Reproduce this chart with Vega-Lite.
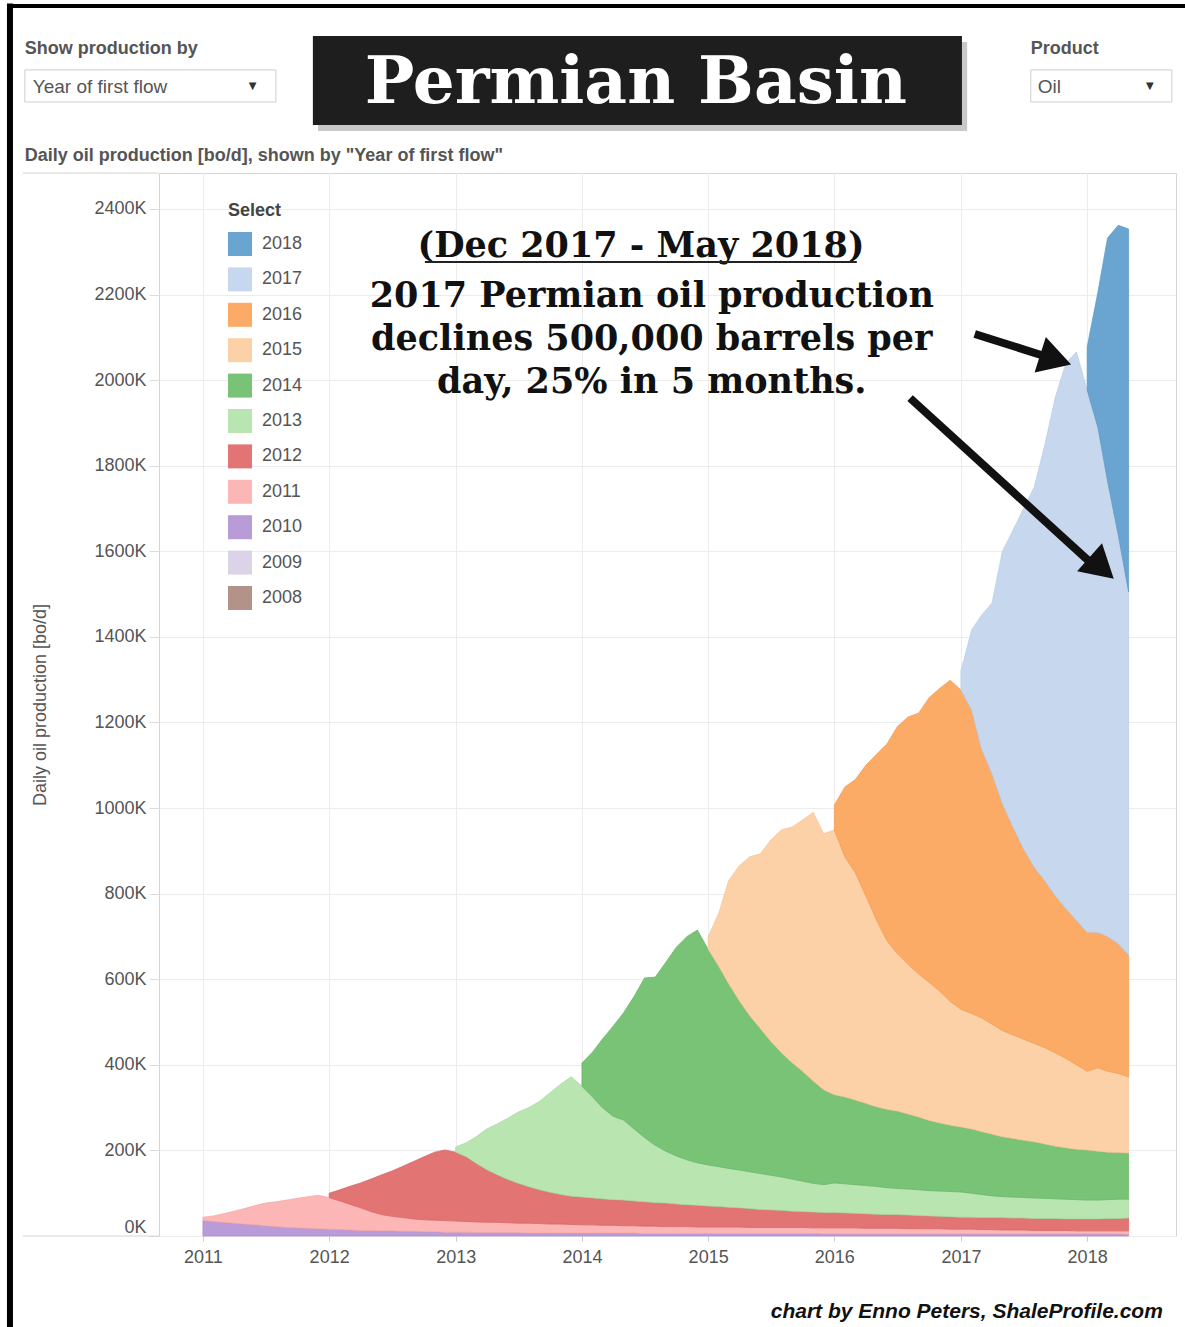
{
"$schema":"https://vega.github.io/schema/vega-lite/v6.json",
"autosize":{"type":"none"},
"padding":{"left":159,"top":173,"right":9,"bottom":91},
"width":1017,"height":1063,
"background":"white",
"config":{"font":"Liberation Sans","view":{"stroke":"#d4d4d4"},"axis":{"gridColor":"#ececec","domain":false}},
"datasets":{
"prod":[
{"date":"2011-01-01","vintage":"2010","kbopd":36},{"date":"2011-02-01","vintage":"2010","kbopd":34},{"date":"2011-03-01","vintage":"2010","kbopd":32},{"date":"2011-04-01","vintage":"2010","kbopd":30},{"date":"2011-05-01","vintage":"2010","kbopd":28},{"date":"2011-06-01","vintage":"2010","kbopd":26},{"date":"2011-07-01","vintage":"2010","kbopd":24},{"date":"2011-08-01","vintage":"2010","kbopd":22},{"date":"2011-09-01","vintage":"2010","kbopd":20},{"date":"2011-10-01","vintage":"2010","kbopd":19},{"date":"2011-11-01","vintage":"2010","kbopd":18},{"date":"2011-12-01","vintage":"2010","kbopd":17},
{"date":"2012-01-01","vintage":"2010","kbopd":16},{"date":"2012-02-01","vintage":"2010","kbopd":15},{"date":"2012-03-01","vintage":"2010","kbopd":14},{"date":"2012-04-01","vintage":"2010","kbopd":13},{"date":"2012-05-01","vintage":"2010","kbopd":13},{"date":"2012-06-01","vintage":"2010","kbopd":12},{"date":"2012-07-01","vintage":"2010","kbopd":12},{"date":"2012-08-01","vintage":"2010","kbopd":11},{"date":"2012-09-01","vintage":"2010","kbopd":11},{"date":"2012-10-01","vintage":"2010","kbopd":10},{"date":"2012-11-01","vintage":"2010","kbopd":10},{"date":"2012-12-01","vintage":"2010","kbopd":9},
{"date":"2013-01-01","vintage":"2010","kbopd":9},{"date":"2013-02-01","vintage":"2010","kbopd":9},{"date":"2013-03-01","vintage":"2010","kbopd":8},{"date":"2013-04-01","vintage":"2010","kbopd":8},{"date":"2013-05-01","vintage":"2010","kbopd":8},{"date":"2013-06-01","vintage":"2010","kbopd":8},{"date":"2013-07-01","vintage":"2010","kbopd":8},{"date":"2013-08-01","vintage":"2010","kbopd":7},{"date":"2013-09-01","vintage":"2010","kbopd":7},{"date":"2013-10-01","vintage":"2010","kbopd":7},{"date":"2013-11-01","vintage":"2010","kbopd":7},{"date":"2013-12-01","vintage":"2010","kbopd":7},
{"date":"2014-01-01","vintage":"2010","kbopd":7},{"date":"2014-02-01","vintage":"2010","kbopd":7},{"date":"2014-03-01","vintage":"2010","kbopd":7},{"date":"2014-04-01","vintage":"2010","kbopd":7},{"date":"2014-05-01","vintage":"2010","kbopd":7},{"date":"2014-06-01","vintage":"2010","kbopd":7},{"date":"2014-07-01","vintage":"2010","kbopd":6},{"date":"2014-08-01","vintage":"2010","kbopd":6},{"date":"2014-09-01","vintage":"2010","kbopd":6},{"date":"2014-10-01","vintage":"2010","kbopd":6},{"date":"2014-11-01","vintage":"2010","kbopd":6},{"date":"2014-12-01","vintage":"2010","kbopd":6},
{"date":"2015-01-01","vintage":"2010","kbopd":6},{"date":"2015-02-01","vintage":"2010","kbopd":6},{"date":"2015-03-01","vintage":"2010","kbopd":6},{"date":"2015-04-01","vintage":"2010","kbopd":6},{"date":"2015-05-01","vintage":"2010","kbopd":6},{"date":"2015-06-01","vintage":"2010","kbopd":6},{"date":"2015-07-01","vintage":"2010","kbopd":6},{"date":"2015-08-01","vintage":"2010","kbopd":6},{"date":"2015-09-01","vintage":"2010","kbopd":6},{"date":"2015-10-01","vintage":"2010","kbopd":6},{"date":"2015-11-01","vintage":"2010","kbopd":6},{"date":"2015-12-01","vintage":"2010","kbopd":5},
{"date":"2016-01-01","vintage":"2010","kbopd":5},{"date":"2016-02-01","vintage":"2010","kbopd":5},{"date":"2016-03-01","vintage":"2010","kbopd":5},{"date":"2016-04-01","vintage":"2010","kbopd":5},{"date":"2016-05-01","vintage":"2010","kbopd":5},{"date":"2016-06-01","vintage":"2010","kbopd":5},{"date":"2016-07-01","vintage":"2010","kbopd":5},{"date":"2016-08-01","vintage":"2010","kbopd":5},{"date":"2016-09-01","vintage":"2010","kbopd":5},{"date":"2016-10-01","vintage":"2010","kbopd":5},{"date":"2016-11-01","vintage":"2010","kbopd":5},{"date":"2016-12-01","vintage":"2010","kbopd":5},
{"date":"2017-01-01","vintage":"2010","kbopd":5},{"date":"2017-02-01","vintage":"2010","kbopd":5},{"date":"2017-03-01","vintage":"2010","kbopd":5},{"date":"2017-04-01","vintage":"2010","kbopd":5},{"date":"2017-05-01","vintage":"2010","kbopd":5},{"date":"2017-06-01","vintage":"2010","kbopd":5},{"date":"2017-07-01","vintage":"2010","kbopd":5},{"date":"2017-08-01","vintage":"2010","kbopd":5},{"date":"2017-09-01","vintage":"2010","kbopd":5},{"date":"2017-10-01","vintage":"2010","kbopd":5},{"date":"2017-11-01","vintage":"2010","kbopd":5},{"date":"2017-12-01","vintage":"2010","kbopd":5},
{"date":"2018-01-01","vintage":"2010","kbopd":5},{"date":"2018-02-01","vintage":"2010","kbopd":5},{"date":"2018-03-01","vintage":"2010","kbopd":5},{"date":"2018-04-01","vintage":"2010","kbopd":5},{"date":"2018-05-01","vintage":"2010","kbopd":4},

{"date":"2011-01-01","vintage":"2011","kbopd":8},{"date":"2011-02-01","vintage":"2011","kbopd":13},{"date":"2011-03-01","vintage":"2011","kbopd":20},{"date":"2011-04-01","vintage":"2011","kbopd":28},{"date":"2011-05-01","vintage":"2011","kbopd":36},{"date":"2011-06-01","vintage":"2011","kbopd":45},{"date":"2011-07-01","vintage":"2011","kbopd":53},{"date":"2011-08-01","vintage":"2011","kbopd":58},{"date":"2011-09-01","vintage":"2011","kbopd":64},{"date":"2011-10-01","vintage":"2011","kbopd":69},{"date":"2011-11-01","vintage":"2011","kbopd":74},{"date":"2011-12-01","vintage":"2011","kbopd":78},
{"date":"2012-01-01","vintage":"2011","kbopd":74},{"date":"2012-02-01","vintage":"2011","kbopd":67},{"date":"2012-03-01","vintage":"2011","kbopd":60},{"date":"2012-04-01","vintage":"2011","kbopd":53},{"date":"2012-05-01","vintage":"2011","kbopd":44},{"date":"2012-06-01","vintage":"2011","kbopd":38},{"date":"2012-07-01","vintage":"2011","kbopd":34},{"date":"2012-08-01","vintage":"2011","kbopd":32},{"date":"2012-09-01","vintage":"2011","kbopd":29},{"date":"2012-10-01","vintage":"2011","kbopd":28},{"date":"2012-11-01","vintage":"2011","kbopd":27},{"date":"2012-12-01","vintage":"2011","kbopd":27},
{"date":"2013-01-01","vintage":"2011","kbopd":26},{"date":"2013-02-01","vintage":"2011","kbopd":25},{"date":"2013-03-01","vintage":"2011","kbopd":25},{"date":"2013-04-01","vintage":"2011","kbopd":24},{"date":"2013-05-01","vintage":"2011","kbopd":24},{"date":"2013-06-01","vintage":"2011","kbopd":23},{"date":"2013-07-01","vintage":"2011","kbopd":22},{"date":"2013-08-01","vintage":"2011","kbopd":23},{"date":"2013-09-01","vintage":"2011","kbopd":22},{"date":"2013-10-01","vintage":"2011","kbopd":21},{"date":"2013-11-01","vintage":"2011","kbopd":21},{"date":"2013-12-01","vintage":"2011","kbopd":20},
{"date":"2014-01-01","vintage":"2011","kbopd":19},{"date":"2014-02-01","vintage":"2011","kbopd":19},{"date":"2014-03-01","vintage":"2011","kbopd":18},{"date":"2014-04-01","vintage":"2011","kbopd":18},{"date":"2014-05-01","vintage":"2011","kbopd":17},{"date":"2014-06-01","vintage":"2011","kbopd":17},{"date":"2014-07-01","vintage":"2011","kbopd":17},{"date":"2014-08-01","vintage":"2011","kbopd":17},{"date":"2014-09-01","vintage":"2011","kbopd":16},{"date":"2014-10-01","vintage":"2011","kbopd":16},{"date":"2014-11-01","vintage":"2011","kbopd":16},{"date":"2014-12-01","vintage":"2011","kbopd":15},
{"date":"2015-01-01","vintage":"2011","kbopd":15},{"date":"2015-02-01","vintage":"2011","kbopd":15},{"date":"2015-03-01","vintage":"2011","kbopd":15},{"date":"2015-04-01","vintage":"2011","kbopd":15},{"date":"2015-05-01","vintage":"2011","kbopd":14},{"date":"2015-06-01","vintage":"2011","kbopd":14},{"date":"2015-07-01","vintage":"2011","kbopd":14},{"date":"2015-08-01","vintage":"2011","kbopd":14},{"date":"2015-09-01","vintage":"2011","kbopd":14},{"date":"2015-10-01","vintage":"2011","kbopd":14},{"date":"2015-11-01","vintage":"2011","kbopd":13},{"date":"2015-12-01","vintage":"2011","kbopd":14},
{"date":"2016-01-01","vintage":"2011","kbopd":14},{"date":"2016-02-01","vintage":"2011","kbopd":14},{"date":"2016-03-01","vintage":"2011","kbopd":14},{"date":"2016-04-01","vintage":"2011","kbopd":13},{"date":"2016-05-01","vintage":"2011","kbopd":13},{"date":"2016-06-01","vintage":"2011","kbopd":13},{"date":"2016-07-01","vintage":"2011","kbopd":13},{"date":"2016-08-01","vintage":"2011","kbopd":12},{"date":"2016-09-01","vintage":"2011","kbopd":12},{"date":"2016-10-01","vintage":"2011","kbopd":12},{"date":"2016-11-01","vintage":"2011","kbopd":12},{"date":"2016-12-01","vintage":"2011","kbopd":11},
{"date":"2017-01-01","vintage":"2011","kbopd":11},{"date":"2017-02-01","vintage":"2011","kbopd":11},{"date":"2017-03-01","vintage":"2011","kbopd":10},{"date":"2017-04-01","vintage":"2011","kbopd":10},{"date":"2017-05-01","vintage":"2011","kbopd":9},{"date":"2017-06-01","vintage":"2011","kbopd":9},{"date":"2017-07-01","vintage":"2011","kbopd":9},{"date":"2017-08-01","vintage":"2011","kbopd":8},{"date":"2017-09-01","vintage":"2011","kbopd":8},{"date":"2017-10-01","vintage":"2011","kbopd":8},{"date":"2017-11-01","vintage":"2011","kbopd":8},{"date":"2017-12-01","vintage":"2011","kbopd":7},
{"date":"2018-01-01","vintage":"2011","kbopd":7},{"date":"2018-02-01","vintage":"2011","kbopd":7},{"date":"2018-03-01","vintage":"2011","kbopd":7},{"date":"2018-04-01","vintage":"2011","kbopd":7},{"date":"2018-05-01","vintage":"2011","kbopd":8},

{"date":"2012-01-01","vintage":"2012","kbopd":10},{"date":"2012-02-01","vintage":"2012","kbopd":26},{"date":"2012-03-01","vintage":"2012","kbopd":42},{"date":"2012-04-01","vintage":"2012","kbopd":58},{"date":"2012-05-01","vintage":"2012","kbopd":76},{"date":"2012-06-01","vintage":"2012","kbopd":93},{"date":"2012-07-01","vintage":"2012","kbopd":106},{"date":"2012-08-01","vintage":"2012","kbopd":120},{"date":"2012-09-01","vintage":"2012","kbopd":134},{"date":"2012-10-01","vintage":"2012","kbopd":147},{"date":"2012-11-01","vintage":"2012","kbopd":159},{"date":"2012-12-01","vintage":"2012","kbopd":165},
{"date":"2013-01-01","vintage":"2012","kbopd":161},{"date":"2013-02-01","vintage":"2012","kbopd":151},{"date":"2013-03-01","vintage":"2012","kbopd":137},{"date":"2013-04-01","vintage":"2012","kbopd":123},{"date":"2013-05-01","vintage":"2012","kbopd":111},{"date":"2013-06-01","vintage":"2012","kbopd":101},{"date":"2013-07-01","vintage":"2012","kbopd":93},{"date":"2013-08-01","vintage":"2012","kbopd":85},{"date":"2013-09-01","vintage":"2012","kbopd":79},{"date":"2013-10-01","vintage":"2012","kbopd":74},{"date":"2013-11-01","vintage":"2012","kbopd":69},{"date":"2013-12-01","vintage":"2012","kbopd":66},
{"date":"2014-01-01","vintage":"2012","kbopd":65},{"date":"2014-02-01","vintage":"2012","kbopd":63},{"date":"2014-03-01","vintage":"2012","kbopd":62},{"date":"2014-04-01","vintage":"2012","kbopd":60},{"date":"2014-05-01","vintage":"2012","kbopd":60},{"date":"2014-06-01","vintage":"2012","kbopd":58},{"date":"2014-07-01","vintage":"2012","kbopd":57},{"date":"2014-08-01","vintage":"2012","kbopd":55},{"date":"2014-09-01","vintage":"2012","kbopd":55},{"date":"2014-10-01","vintage":"2012","kbopd":53},{"date":"2014-11-01","vintage":"2012","kbopd":51},{"date":"2014-12-01","vintage":"2012","kbopd":51},
{"date":"2015-01-01","vintage":"2012","kbopd":49},{"date":"2015-02-01","vintage":"2012","kbopd":48},{"date":"2015-03-01","vintage":"2012","kbopd":46},{"date":"2015-04-01","vintage":"2012","kbopd":45},{"date":"2015-05-01","vintage":"2012","kbopd":44},{"date":"2015-06-01","vintage":"2012","kbopd":42},{"date":"2015-07-01","vintage":"2012","kbopd":41},{"date":"2015-08-01","vintage":"2012","kbopd":40},{"date":"2015-09-01","vintage":"2012","kbopd":38},{"date":"2015-10-01","vintage":"2012","kbopd":37},{"date":"2015-11-01","vintage":"2012","kbopd":37},{"date":"2015-12-01","vintage":"2012","kbopd":36},
{"date":"2016-01-01","vintage":"2012","kbopd":36},{"date":"2016-02-01","vintage":"2012","kbopd":35},{"date":"2016-03-01","vintage":"2012","kbopd":34},{"date":"2016-04-01","vintage":"2012","kbopd":34},{"date":"2016-05-01","vintage":"2012","kbopd":33},{"date":"2016-06-01","vintage":"2012","kbopd":32},{"date":"2016-07-01","vintage":"2012","kbopd":32},{"date":"2016-08-01","vintage":"2012","kbopd":32},{"date":"2016-09-01","vintage":"2012","kbopd":31},{"date":"2016-10-01","vintage":"2012","kbopd":30},{"date":"2016-11-01","vintage":"2012","kbopd":29},{"date":"2016-12-01","vintage":"2012","kbopd":29},
{"date":"2017-01-01","vintage":"2012","kbopd":28},{"date":"2017-02-01","vintage":"2012","kbopd":28},{"date":"2017-03-01","vintage":"2012","kbopd":28},{"date":"2017-04-01","vintage":"2012","kbopd":28},{"date":"2017-05-01","vintage":"2012","kbopd":29},{"date":"2017-06-01","vintage":"2012","kbopd":28},{"date":"2017-07-01","vintage":"2012","kbopd":28},{"date":"2017-08-01","vintage":"2012","kbopd":28},{"date":"2017-09-01","vintage":"2012","kbopd":28},{"date":"2017-10-01","vintage":"2012","kbopd":28},{"date":"2017-11-01","vintage":"2012","kbopd":27},{"date":"2017-12-01","vintage":"2012","kbopd":28},
{"date":"2018-01-01","vintage":"2012","kbopd":28},{"date":"2018-02-01","vintage":"2012","kbopd":28},{"date":"2018-03-01","vintage":"2012","kbopd":29},{"date":"2018-04-01","vintage":"2012","kbopd":29},{"date":"2018-05-01","vintage":"2012","kbopd":30},

{"date":"2013-01-01","vintage":"2013","kbopd":12},{"date":"2013-02-01","vintage":"2013","kbopd":33},{"date":"2013-03-01","vintage":"2013","kbopd":62},{"date":"2013-04-01","vintage":"2013","kbopd":95},{"date":"2013-05-01","vintage":"2013","kbopd":119},{"date":"2013-06-01","vintage":"2013","kbopd":143},{"date":"2013-07-01","vintage":"2013","kbopd":167},{"date":"2013-08-01","vintage":"2013","kbopd":185},{"date":"2013-09-01","vintage":"2013","kbopd":207},{"date":"2013-10-01","vintage":"2013","kbopd":233},{"date":"2013-11-01","vintage":"2013","kbopd":258},{"date":"2013-12-01","vintage":"2013","kbopd":279},
{"date":"2014-01-01","vintage":"2013","kbopd":259},{"date":"2014-02-01","vintage":"2013","kbopd":236},{"date":"2014-03-01","vintage":"2013","kbopd":213},{"date":"2014-04-01","vintage":"2013","kbopd":195},{"date":"2014-05-01","vintage":"2013","kbopd":187},{"date":"2014-06-01","vintage":"2013","kbopd":168},{"date":"2014-07-01","vintage":"2013","kbopd":150},{"date":"2014-08-01","vintage":"2013","kbopd":134},{"date":"2014-09-01","vintage":"2013","kbopd":121},{"date":"2014-10-01","vintage":"2013","kbopd":112},{"date":"2014-11-01","vintage":"2013","kbopd":105},{"date":"2014-12-01","vintage":"2013","kbopd":99},
{"date":"2015-01-01","vintage":"2013","kbopd":96},{"date":"2015-02-01","vintage":"2013","kbopd":93},{"date":"2015-03-01","vintage":"2013","kbopd":91},{"date":"2015-04-01","vintage":"2013","kbopd":88},{"date":"2015-05-01","vintage":"2013","kbopd":86},{"date":"2015-06-01","vintage":"2013","kbopd":84},{"date":"2015-07-01","vintage":"2013","kbopd":81},{"date":"2015-08-01","vintage":"2013","kbopd":78},{"date":"2015-09-01","vintage":"2013","kbopd":75},{"date":"2015-10-01","vintage":"2013","kbopd":71},{"date":"2015-11-01","vintage":"2013","kbopd":67},{"date":"2015-12-01","vintage":"2013","kbopd":65},
{"date":"2016-01-01","vintage":"2013","kbopd":69},{"date":"2016-02-01","vintage":"2013","kbopd":68},{"date":"2016-03-01","vintage":"2013","kbopd":67},{"date":"2016-04-01","vintage":"2013","kbopd":66},{"date":"2016-05-01","vintage":"2013","kbopd":65},{"date":"2016-06-01","vintage":"2013","kbopd":63},{"date":"2016-07-01","vintage":"2013","kbopd":61},{"date":"2016-08-01","vintage":"2013","kbopd":61},{"date":"2016-09-01","vintage":"2013","kbopd":60},{"date":"2016-10-01","vintage":"2013","kbopd":59},{"date":"2016-11-01","vintage":"2013","kbopd":59},{"date":"2016-12-01","vintage":"2013","kbopd":59},
{"date":"2017-01-01","vintage":"2013","kbopd":59},{"date":"2017-02-01","vintage":"2013","kbopd":56},{"date":"2017-03-01","vintage":"2013","kbopd":54},{"date":"2017-04-01","vintage":"2013","kbopd":51},{"date":"2017-05-01","vintage":"2013","kbopd":49},{"date":"2017-06-01","vintage":"2013","kbopd":49},{"date":"2017-07-01","vintage":"2013","kbopd":48},{"date":"2017-08-01","vintage":"2013","kbopd":48},{"date":"2017-09-01","vintage":"2013","kbopd":47},{"date":"2017-10-01","vintage":"2013","kbopd":46},{"date":"2017-11-01","vintage":"2013","kbopd":46},{"date":"2017-12-01","vintage":"2013","kbopd":45},
{"date":"2018-01-01","vintage":"2013","kbopd":44},{"date":"2018-02-01","vintage":"2013","kbopd":44},{"date":"2018-03-01","vintage":"2013","kbopd":44},{"date":"2018-04-01","vintage":"2013","kbopd":45},{"date":"2018-05-01","vintage":"2013","kbopd":44},

{"date":"2014-01-01","vintage":"2014","kbopd":54},{"date":"2014-02-01","vintage":"2014","kbopd":105},{"date":"2014-03-01","vintage":"2014","kbopd":160},{"date":"2014-04-01","vintage":"2014","kbopd":210},{"date":"2014-05-01","vintage":"2014","kbopd":250},{"date":"2014-06-01","vintage":"2014","kbopd":310},{"date":"2014-07-01","vintage":"2014","kbopd":373},{"date":"2014-08-01","vintage":"2014","kbopd":393},{"date":"2014-09-01","vintage":"2014","kbopd":442},{"date":"2014-10-01","vintage":"2014","kbopd":488},{"date":"2014-11-01","vintage":"2014","kbopd":522},{"date":"2014-12-01","vintage":"2014","kbopd":544},
{"date":"2015-01-01","vintage":"2014","kbopd":504},{"date":"2015-02-01","vintage":"2014","kbopd":468},{"date":"2015-03-01","vintage":"2014","kbopd":432},{"date":"2015-04-01","vintage":"2014","kbopd":396},{"date":"2015-05-01","vintage":"2014","kbopd":365},{"date":"2015-06-01","vintage":"2014","kbopd":339},{"date":"2015-07-01","vintage":"2014","kbopd":313},{"date":"2015-08-01","vintage":"2014","kbopd":290},{"date":"2015-09-01","vintage":"2014","kbopd":272},{"date":"2015-10-01","vintage":"2014","kbopd":257},{"date":"2015-11-01","vintage":"2014","kbopd":239},{"date":"2015-12-01","vintage":"2014","kbopd":222},
{"date":"2016-01-01","vintage":"2014","kbopd":206},{"date":"2016-02-01","vintage":"2014","kbopd":203},{"date":"2016-03-01","vintage":"2014","kbopd":198},{"date":"2016-04-01","vintage":"2014","kbopd":192},{"date":"2016-05-01","vintage":"2014","kbopd":186},{"date":"2016-06-01","vintage":"2014","kbopd":183},{"date":"2016-07-01","vintage":"2014","kbopd":181},{"date":"2016-08-01","vintage":"2014","kbopd":175},{"date":"2016-09-01","vintage":"2014","kbopd":170},{"date":"2016-10-01","vintage":"2014","kbopd":164},{"date":"2016-11-01","vintage":"2014","kbopd":159},{"date":"2016-12-01","vintage":"2014","kbopd":155},
{"date":"2017-01-01","vintage":"2014","kbopd":152},{"date":"2017-02-01","vintage":"2014","kbopd":150},{"date":"2017-03-01","vintage":"2014","kbopd":147},{"date":"2017-04-01","vintage":"2014","kbopd":144},{"date":"2017-05-01","vintage":"2014","kbopd":140},{"date":"2017-06-01","vintage":"2014","kbopd":137},{"date":"2017-07-01","vintage":"2014","kbopd":134},{"date":"2017-08-01","vintage":"2014","kbopd":131},{"date":"2017-09-01","vintage":"2014","kbopd":127},{"date":"2017-10-01","vintage":"2014","kbopd":123},{"date":"2017-11-01","vintage":"2014","kbopd":120},{"date":"2017-12-01","vintage":"2014","kbopd":118},
{"date":"2018-01-01","vintage":"2014","kbopd":117},{"date":"2018-02-01","vintage":"2014","kbopd":114},{"date":"2018-03-01","vintage":"2014","kbopd":111},{"date":"2018-04-01","vintage":"2014","kbopd":109},{"date":"2018-05-01","vintage":"2014","kbopd":108},

{"date":"2015-01-01","vintage":"2015","kbopd":29},{"date":"2015-02-01","vintage":"2015","kbopd":125},{"date":"2015-03-01","vintage":"2015","kbopd":240},{"date":"2015-04-01","vintage":"2015","kbopd":315},{"date":"2015-05-01","vintage":"2015","kbopd":371},{"date":"2015-06-01","vintage":"2015","kbopd":408},{"date":"2015-07-01","vintage":"2015","kbopd":470},{"date":"2015-08-01","vintage":"2015","kbopd":521},{"date":"2015-09-01","vintage":"2015","kbopd":551},{"date":"2015-10-01","vintage":"2015","kbopd":587},{"date":"2015-11-01","vintage":"2015","kbopd":628},{"date":"2015-12-01","vintage":"2015","kbopd":598},
{"date":"2016-01-01","vintage":"2015","kbopd":619},{"date":"2016-02-01","vintage":"2015","kbopd":560},{"date":"2016-03-01","vintage":"2015","kbopd":532},{"date":"2016-04-01","vintage":"2015","kbopd":485},{"date":"2016-05-01","vintage":"2015","kbopd":438},{"date":"2016-06-01","vintage":"2015","kbopd":394},{"date":"2016-07-01","vintage":"2015","kbopd":368},{"date":"2016-08-01","vintage":"2015","kbopd":350},{"date":"2016-09-01","vintage":"2015","kbopd":334},{"date":"2016-10-01","vintage":"2015","kbopd":323},{"date":"2016-11-01","vintage":"2015","kbopd":308},{"date":"2016-12-01","vintage":"2015","kbopd":289},
{"date":"2017-01-01","vintage":"2015","kbopd":275},{"date":"2017-02-01","vintage":"2015","kbopd":270},{"date":"2017-03-01","vintage":"2015","kbopd":266},{"date":"2017-04-01","vintage":"2015","kbopd":257},{"date":"2017-05-01","vintage":"2015","kbopd":248},{"date":"2017-06-01","vintage":"2015","kbopd":242},{"date":"2017-07-01","vintage":"2015","kbopd":236},{"date":"2017-08-01","vintage":"2015","kbopd":230},{"date":"2017-09-01","vintage":"2015","kbopd":225},{"date":"2017-10-01","vintage":"2015","kbopd":218},{"date":"2017-11-01","vintage":"2015","kbopd":209},{"date":"2017-12-01","vintage":"2015","kbopd":197},
{"date":"2018-01-01","vintage":"2015","kbopd":184},{"date":"2018-02-01","vintage":"2015","kbopd":195},{"date":"2018-03-01","vintage":"2015","kbopd":189},{"date":"2018-04-01","vintage":"2015","kbopd":185},{"date":"2018-05-01","vintage":"2015","kbopd":178},

{"date":"2016-01-01","vintage":"2016","kbopd":58},{"date":"2016-02-01","vintage":"2016","kbopd":165},{"date":"2016-03-01","vintage":"2016","kbopd":216},{"date":"2016-04-01","vintage":"2016","kbopd":305},{"date":"2016-05-01","vintage":"2016","kbopd":385},{"date":"2016-06-01","vintage":"2016","kbopd":460},{"date":"2016-07-01","vintage":"2016","kbopd":530},{"date":"2016-08-01","vintage":"2016","kbopd":578},{"date":"2016-09-01","vintage":"2016","kbopd":610},{"date":"2016-10-01","vintage":"2016","kbopd":665},{"date":"2016-11-01","vintage":"2016","kbopd":708},{"date":"2016-12-01","vintage":"2016","kbopd":751},
{"date":"2017-01-01","vintage":"2016","kbopd":746},{"date":"2017-02-01","vintage":"2016","kbopd":710},{"date":"2017-03-01","vintage":"2016","kbopd":630},{"date":"2017-04-01","vintage":"2016","kbopd":585},{"date":"2017-05-01","vintage":"2016","kbopd":530},{"date":"2017-06-01","vintage":"2016","kbopd":485},{"date":"2017-07-01","vintage":"2016","kbopd":445},{"date":"2017-08-01","vintage":"2016","kbopd":412},{"date":"2017-09-01","vintage":"2016","kbopd":390},{"date":"2017-10-01","vintage":"2016","kbopd":367},{"date":"2017-11-01","vintage":"2016","kbopd":350},{"date":"2017-12-01","vintage":"2016","kbopd":338},
{"date":"2018-01-01","vintage":"2016","kbopd":325},{"date":"2018-02-01","vintage":"2016","kbopd":317},{"date":"2018-03-01","vintage":"2016","kbopd":315},{"date":"2018-04-01","vintage":"2016","kbopd":303},{"date":"2018-05-01","vintage":"2016","kbopd":285},

{"date":"2017-01-01","vintage":"2017","kbopd":44},{"date":"2017-02-01","vintage":"2017","kbopd":186},{"date":"2017-03-01","vintage":"2017","kbopd":310},{"date":"2017-04-01","vintage":"2017","kbopd":399},{"date":"2017-05-01","vintage":"2017","kbopd":590},{"date":"2017-06-01","vintage":"2017","kbopd":695},{"date":"2017-07-01","vintage":"2017","kbopd":795},{"date":"2017-08-01","vintage":"2017","kbopd":888},{"date":"2017-09-01","vintage":"2017","kbopd":1020},{"date":"2017-10-01","vintage":"2017","kbopd":1165},{"date":"2017-11-01","vintage":"2017","kbopd":1275},{"date":"2017-12-01","vintage":"2017","kbopd":1328},
{"date":"2018-01-01","vintage":"2017","kbopd":1267},{"date":"2018-02-01","vintage":"2017","kbopd":1180},{"date":"2018-03-01","vintage":"2017","kbopd":1065},{"date":"2018-04-01","vintage":"2017","kbopd":955},{"date":"2018-05-01","vintage":"2017","kbopd":848},

{"date":"2018-01-01","vintage":"2018","kbopd":100},{"date":"2018-02-01","vintage":"2018","kbopd":315},{"date":"2018-03-01","vintage":"2018","kbopd":567},{"date":"2018-04-01","vintage":"2018","kbopd":724},{"date":"2018-05-01","vintage":"2018","kbopd":848}
],
"note":[
{"date":"2014-06-21","kbopd":2288,"label":"(Dec 2017 - May 2018)"},
{"date":"2014-07-22","kbopd":2171,"label":"2017 Permian oil production"},
{"date":"2014-07-22","kbopd":2070,"label":"declines 500,000 barrels per"},
{"date":"2014-07-22","kbopd":1970,"label":"day, 25% in 5 months."}
],
"shaft":[
{"date":"2017-02-10","kbopd":2108,"date2":"2017-09-01","kbopd2":2056},
{"date":"2016-08-07","kbopd":1958,"date2":"2018-01-09","kbopd2":1575}
],
"dd":[
{"date":"2009-08-04","date2":"2011-07-31","kbopd":2650,"kbopd2":2725},
{"date":"2017-07-22","date2":"2018-09-03","kbopd":2650,"kbopd2":2725}
],
"ddtext":[
{"date":"2009-08-27","kbopd":2671,"label":"Year of first flow"},
{"date":"2017-08-11","kbopd":2671,"label":"Oil"}
],
"ddarrow":[
{"date":"2011-05-25","kbopd":2687,"label":"▼"},
{"date":"2018-07-01","kbopd":2687,"label":"▼"}
],
"labels":[
{"date":"2009-08-04","kbopd":2762,"label":"Show production by"},
{"date":"2017-07-22","kbopd":2762,"label":"Product"},
{"date":"2009-08-04","kbopd":2512,"label":"Daily oil production [bo/d], shown by \"Year of first flow\""}
]
},
"layer":[
{"data":{"name":"prod"},
 "transform":[{"stack":"kbopd","groupby":["date"],"sort":[{"field":"vintage","order":"ascending"}],"as":["y0","y1"]}],
 "mark":{"type":"area","opacity":1,"strokeWidth":0.7,"interpolate":"linear"},
 "encoding":{
  "x":{"field":"date","type":"temporal",
   "scale":{"type":"utc","domain":[{"year":2010,"month":8,"date":27,"utc":true},{"year":2018,"month":9,"date":15,"utc":true}]},
   "axis":{"title":null,"format":"%Y","tickCount":{"interval":"year","step":1},"grid":true,"gridColor":"#ececec","ticks":true,"tickSize":5,"tickColor":"#cccccc","labelFontSize":18,"labelColor":"#555555","labelPadding":7,"labelFont":"Liberation Sans"}},
  "y":{"field":"y1","type":"quantitative",
   "scale":{"domain":[0,2484.1],"nice":false,"zero":true},
   "axis":{"title":"Daily oil production [bo/d]","titleFontSize":18,"titleFontWeight":"normal","titleColor":"#555555","titleX":-110,"titleFont":"Liberation Sans",
    "values":[0,200,400,600,800,1000,1200,1400,1600,1800,2000,2200,2400],"labelExpr":"datum.value + 'K'","labelFlush":true,
    "grid":true,"gridColor":"#ececec","ticks":true,"tickSize":10,"tickColor":"#dddddd","labelFontSize":18,"labelColor":"#555555","labelPadding":3,"labelFont":"Liberation Sans"}},
  "y2":{"field":"y0"},
  "color":{"field":"vintage","type":"nominal",
   "scale":{"domain":["2018","2017","2016","2015","2014","2013","2012","2011","2010","2009","2008"],
    "range":["#6aa5d1","#c7d8ee","#fbab66","#fdd1a8","#79c377","#b8e5b0","#e27474","#fdb6b6","#b99bd8","#ddd3e8","#b3928a"]},
   "legend":{"orient":"none","legendX":69,"legendY":29,"title":"Select","titleFontSize":18,"titleFontWeight":"bold","titleColor":"#444444","titleFont":"Liberation Sans","titlePadding":12,
    "labelFontSize":18,"labelColor":"#555555","labelFont":"Liberation Sans","labelOffset":10,"symbolType":"square","symbolSize":576,"symbolStrokeWidth":0,"symbolOpacity":1,"rowPadding":11.4}},
  "stroke":{"field":"vintage","type":"nominal",
   "scale":{"domain":["2018","2017","2016","2015","2014","2013","2012","2011","2010","2009","2008"],
    "range":["#5a97c6","#b5cbe8","#f39a50","#f5c292","#66b565","#a3d99b","#d86262","#f7a4a4","#a98bcb","#cfc4dd","#a08078"]},
   "legend":null}
 }},
{"data":{"values":[{"date":"2009-06-22","kbopd":-213,"kbopd2":2880}]},
 "mark":{"type":"rule","color":"#000","strokeWidth":6},
 "encoding":{"x":{"field":"date","type":"temporal"},"y":{"field":"kbopd","type":"quantitative"},"y2":{"field":"kbopd2"}}},
{"data":{"values":[{"date":"2009-06-20","date2":"2018-10-12","kbopd":2874.4}]},
 "mark":{"type":"rule","color":"#000","strokeWidth":4},
 "encoding":{"x":{"field":"date","type":"temporal"},"x2":{"field":"date2"},"y":{"field":"kbopd","type":"quantitative"}}},
{"data":{"values":[{"date":"2009-07-29","date2":"2010-08-27","kbopd":0},{"date":"2009-07-29","date2":"2010-08-27","kbopd":2484.1}]},
 "mark":{"type":"rule","color":"#d4d4d4","strokeWidth":1},
 "encoding":{"x":{"field":"date","type":"temporal"},"x2":{"field":"date2"},"y":{"field":"kbopd","type":"quantitative"}}},
{"data":{"values":[{"date":"2011-11-30","date2":"2017-01-19","kbopd":2582,"kbopd2":2790}]},
 "mark":{"type":"rect","color":"#9a9a9a","opacity":0.55},
 "encoding":{"x":{"field":"date","type":"temporal"},"x2":{"field":"date2"},"y":{"field":"kbopd","type":"quantitative"},"y2":{"field":"kbopd2"}}},
{"data":{"values":[{"date":"2011-11-15","date2":"2017-01-04","kbopd":2596,"kbopd2":2804}]},
 "mark":{"type":"rect","color":"#1e1e1e"},
 "encoding":{"x":{"field":"date","type":"temporal"},"x2":{"field":"date2"},"y":{"field":"kbopd","type":"quantitative"},"y2":{"field":"kbopd2"}}},
{"data":{"values":[{"date":"2014-06-06","kbopd":2648,"label":"Permian Basin"}]},
 "mark":{"type":"text","font":"DejaVu Serif","fontWeight":"bold","fontSize":66,"align":"center","baseline":"alphabetic","color":"#ffffff"},
 "encoding":{"x":{"field":"date","type":"temporal"},"y":{"field":"kbopd","type":"quantitative"},"text":{"field":"label"}}},
{"data":{"name":"dd"},
 "mark":{"type":"rect","fill":"#ffffff","stroke":"#cfcfcf","strokeWidth":1},
 "encoding":{"x":{"field":"date","type":"temporal"},"x2":{"field":"date2"},"y":{"field":"kbopd","type":"quantitative"},"y2":{"field":"kbopd2"}}},
{"data":{"name":"ddtext"},
 "mark":{"type":"text","font":"Liberation Sans","fontSize":19,"align":"left","baseline":"alphabetic","color":"#555555"},
 "encoding":{"x":{"field":"date","type":"temporal"},"y":{"field":"kbopd","type":"quantitative"},"text":{"field":"label"}}},
{"data":{"name":"ddarrow"},
 "mark":{"type":"text","font":"DejaVu Sans","fontSize":10,"align":"center","baseline":"middle","color":"#333333"},
 "encoding":{"x":{"field":"date","type":"temporal"},"y":{"field":"kbopd","type":"quantitative"},"text":{"field":"label"}}},
{"data":{"name":"labels"},
 "mark":{"type":"text","font":"Liberation Sans","fontWeight":"bold","fontSize":18,"align":"left","baseline":"alphabetic","color":"#555555"},
 "encoding":{"x":{"field":"date","type":"temporal"},"y":{"field":"kbopd","type":"quantitative"},"text":{"field":"label"}}},
{"data":{"name":"note"},
 "mark":{"type":"text","font":"DejaVu Serif","fontWeight":"bold","fontSize":35,"align":"center","baseline":"alphabetic","color":"#111111"},
 "encoding":{"x":{"field":"date","type":"temporal"},"y":{"field":"kbopd","type":"quantitative"},"text":{"field":"label"}}},
{"data":{"values":[{"date":"2012-10-04","date2":"2016-03-06","kbopd":2276}]},
 "mark":{"type":"rule","color":"#222222","strokeWidth":2},
 "encoding":{"x":{"field":"date","type":"temporal"},"x2":{"field":"date2"},"y":{"field":"kbopd","type":"quantitative"}}},
{"data":{"name":"shaft"},
 "mark":{"type":"rule","color":"#111111","strokeWidth":8},
 "encoding":{"x":{"field":"date","type":"temporal"},"x2":{"field":"date2"},"y":{"field":"kbopd","type":"quantitative"},"y2":{"field":"kbopd2"}}},
{"data":{"values":[{"date":"2017-10-02","kbopd":2048}]},
 "mark":{"type":"point","shape":"triangle-up","filled":true,"size":1400,"angle":107.5,"color":"#111111","opacity":1},
 "encoding":{"x":{"field":"date","type":"temporal"},"y":{"field":"kbopd","type":"quantitative"}}},
{"data":{"values":[{"date":"2018-02-12","kbopd":1561}]},
 "mark":{"type":"point","shape":"triangle-up","filled":true,"size":1400,"angle":131.7,"color":"#111111","opacity":1},
 "encoding":{"x":{"field":"date","type":"temporal"},"y":{"field":"kbopd","type":"quantitative"}}},
{"data":{"values":[{"date":"2018-08-08","kbopd":-191.6,"label":"chart by Enno Peters, ShaleProfile.com"}]},
 "mark":{"type":"text","font":"Liberation Sans","fontStyle":"italic","fontWeight":"bold","fontSize":21,"align":"right","baseline":"alphabetic","color":"#111111"},
 "encoding":{"x":{"field":"date","type":"temporal"},"y":{"field":"kbopd","type":"quantitative"},"text":{"field":"label"}}}
]
}
